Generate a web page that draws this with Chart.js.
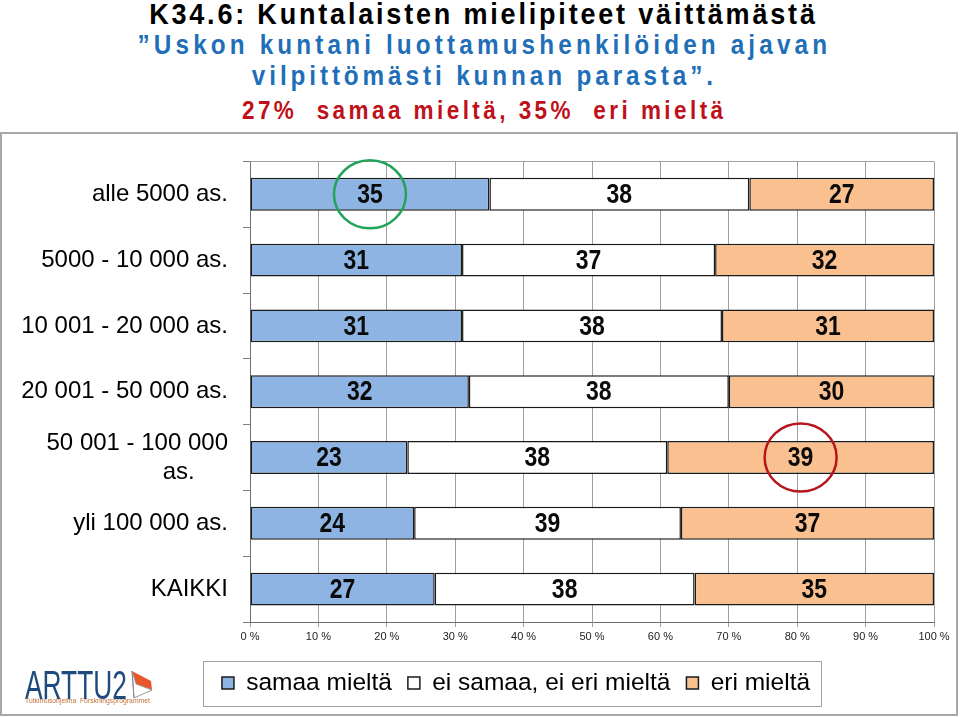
<!DOCTYPE html>
<html>
<head>
<meta charset="utf-8">
<script src="https://cdn.jsdelivr.net/npm/chart.js@4.4.0/dist/chart.umd.min.js"></script>
<style>
html,body{margin:0;padding:0;background:#fff;}
body{width:960px;height:717px;position:relative;overflow:hidden;font-family:"Liberation Sans",Arial,sans-serif;}
.t{position:absolute;left:2px;width:960px;text-align:center;white-space:pre;font-weight:bold;line-height:1;}
.t span{display:inline-block;transform-origin:50% 50%;}
#frame{position:absolute;left:0;top:132px;width:958px;height:584px;box-sizing:border-box;border:2px solid #a8a8a8;}
#wrap{position:absolute;left:0;top:132px;width:960px;height:585px;}
#logoA{position:absolute;left:25px;top:665px;font-size:40px;line-height:1;color:#1f4a7d;white-space:nowrap;transform-origin:0 50%;}
#logoB{position:absolute;left:25px;top:697px;font-size:8px;line-height:1;color:#c0703a;white-space:pre;transform-origin:0 50%;}
#sail{position:absolute;left:126px;top:668px;}
</style>
</head>
<body>
<div id="frame"></div>
<div class="t" id="l1" style="top:-1px;font-size:30px;color:#000;" data-w="669"><span>K34.6: Kuntalaisten mielipiteet väittämästä</span></div>
<div class="t" id="l2" style="top:32px;font-size:27px;color:#1f6fb8;" data-w="694"><span>”Uskon kuntani luottamushenkilöiden ajavan</span></div>
<div class="t" id="l3" style="top:63px;font-size:27px;color:#1f6fb8;" data-w="465"><span>vilpittömästi kunnan parasta”.</span></div>
<div class="t" id="l4" style="top:98px;font-size:25px;color:#c0101a;" data-w="485"><span>27%  samaa mieltä, 35%  eri mieltä</span></div>
<div id="wrap"><canvas id="c"></canvas></div>
<div id="logoA">ARTTU2</div>
<div id="logoB">Tutkimusohjelma  Forskningsprogrammet</div>
<svg id="sail" width="28" height="32" viewBox="0 0 28 32">
  <polygon points="6,3 25,13 26,22 10,16" fill="#e8572a"/>
  <polygon points="6,3 10,16 26,22 8,30" fill="#fff" stroke="#9a9a9a" stroke-width="1"/>
  <line x1="6" y1="3" x2="8" y2="30" stroke="#8a8a8a" stroke-width="1"/>
</svg>
<script>
// ---- data ----
const categories = ['alle 5000 as.', '5000 - 10 000 as.', '10 001 - 20 000 as.', '20 001 - 50 000 as.', ['50 001 - 100 000', 'as.     '], 'yli 100 000 as.', 'KAIKKI'];
const seriesNames = ['samaa mieltä', 'ei samaa, ei eri mieltä', 'eri mieltä'];
const samaaMielta = [35, 31, 31, 32, 23, 24, 27];
const eiSamaaEiEri = [38, 37, 38, 38, 38, 39, 38];
const eriMielta = [27, 32, 31, 30, 39, 37, 35];
const xTickLabels = ['0 %', '10 %', '20 %', '30 %', '40 %', '50 %', '60 %', '70 %', '80 %', '90 %', '100 %'];
const highlights = [{dataset: 0, row: 0, color: '#22a35a'}, {dataset: 2, row: 4, color: '#b5171c'}];

// ---- title fitting ----
function fitLine(el, target, sx) {
  const span = el.querySelector('span');
  const w = span.offsetWidth;
  const n = span.textContent.length;
  const ls = (target / sx - w) / n;
  span.style.letterSpacing = ls + 'px';
  span.style.marginRight = (-ls) + 'px';
  span.style.transform = 'scaleX(' + sx + ')';
}
['l1', 'l2', 'l3', 'l4'].forEach(id => { const el = document.getElementById(id); fitLine(el, +el.dataset.w, 0.9); });
function fitW(el, target) { const w = el.offsetWidth; el.style.transform = 'scaleX(' + (target / w) + ')'; }
fitW(document.getElementById('logoA'), 102);
fitW(document.getElementById('logoB'), 125);

// ---- plugins ----
const legendShift = {
  id: 'legendShift',
  afterLayout(chart) {
    if (chart.legend) { chart.legend.left = 98; }
  }
};
const topBorder = {
  id: 'topBorder',
  beforeDatasetsDraw(chart) {
    const {ctx, chartArea: a} = chart;
    ctx.save();
    ctx.strokeStyle = '#a0a0a0'; ctx.lineWidth = 1;
    ctx.beginPath(); ctx.moveTo(a.left, Math.round(a.top) + 0.5); ctx.lineTo(a.right, Math.round(a.top) + 0.5); ctx.stroke();
    ctx.restore();
  }
};
const barLabels = {
  id: 'barLabels',
  afterDatasetsDraw(chart) {
    const ctx = chart.ctx;
    ctx.save();
    ctx.font = 'bold 28px "Liberation Sans", Arial, sans-serif';
    ctx.textAlign = 'center'; ctx.textBaseline = 'middle'; ctx.fillStyle = '#0a0a0a';
    chart.data.datasets.forEach((ds, i) => {
      chart.getDatasetMeta(i).data.forEach((el, j) => {
        const p = el.getCenterPoint();
        ctx.save(); ctx.translate(p.x, p.y + 1); ctx.scale(0.82, 1);
        ctx.fillText(String(ds.data[j]), 0, 0);
        ctx.restore();
      });
    });
    ctx.restore();
  }
};
const rings = {
  id: 'rings',
  afterDraw(chart) {
    const ctx = chart.ctx;
    highlights.forEach(h => {
      const el = chart.getDatasetMeta(h.dataset).data[h.row];
      const p = el.getCenterPoint();
      ctx.save();
      ctx.strokeStyle = h.color; ctx.lineWidth = 2.5;
      ctx.beginPath(); ctx.ellipse(p.x, p.y, 36, 34, 0, 0, Math.PI * 2); ctx.stroke();
      ctx.restore();
    });
  }
};
const legendFrame = {
  id: 'legendFrame',
  afterDraw(chart) {
    const hb = chart.legend && chart.legend.legendHitBoxes;
    if (!hb || !hb.length) return;
    const first = hb[0], last = hb[hb.length - 1];
    const mid = first.top + first.height / 2;
    const l = Math.round(first.left - 19), r = Math.round(last.left + last.width + 11);
    const ctx = chart.ctx;
    ctx.save(); ctx.strokeStyle = '#a0a0a0'; ctx.lineWidth = 1;
    ctx.strokeRect(l + 0.5, Math.round(mid - 22) + 0.5, r - l, 45);
    ctx.restore();
  }
};

const colors = ['#8eb4e3', '#ffffff', '#fac090'];
const series = [samaaMielta, eiSamaaEiEri, eriMielta];

new Chart(document.getElementById('c'), {
  type: 'bar',
  data: {
    labels: categories,
    datasets: series.map((d, i) => ({
      label: seriesNames[i],
      data: d,
      backgroundColor: colors[i],
      borderColor: '#1a1a1a',
      borderWidth: 1.5,
      borderSkipped: false,
      categoryPercentage: 1,
      barPercentage: 0.5
    }))
  },
  options: {
    indexAxis: 'y',
    responsive: true,
    maintainAspectRatio: false,
    devicePixelRatio: 1,
    animation: false,
    layout: {padding: {top: 26, right: 26, bottom: 11.75, left: 0}},
    scales: {
      x: {
        stacked: true, min: 0, max: 100,
        ticks: {stepSize: 10, padding: 3, color: '#222', font: {size: 11, family: '"Liberation Sans", Arial, sans-serif'},
          callback: (v) => xTickLabels[Math.round(v / 10)]},
        grid: {color: '#a0a0a0', lineWidth: 1, tickLength: 5, drawTicks: true},
        border: {color: '#6e6e6e', width: 1},
        afterFit: (s) => { s.height = 32.75; }
      },
      y: {
        stacked: true,
        ticks: {padding: 15, color: '#000', font: {size: 24, family: '"Liberation Sans", Arial, sans-serif'}},
        grid: {drawOnChartArea: false, drawTicks: true, tickLength: 7, color: '#808080'},
        border: {color: '#6e6e6e', width: 1},
        afterFit: (s) => { s.width = 250; }
      }
    },
    plugins: {
      legend: {
        position: 'bottom',
        labels: {boxWidth: 12, boxHeight: 12, padding: 16, color: '#000', font: {size: 24.5, family: '"Liberation Sans", Arial, sans-serif'}}
      },
      tooltip: {enabled: false},
      title: {display: false}
    }
  },
  plugins: [legendShift, topBorder, barLabels, rings, legendFrame]
});
</script>
</body>
</html>
